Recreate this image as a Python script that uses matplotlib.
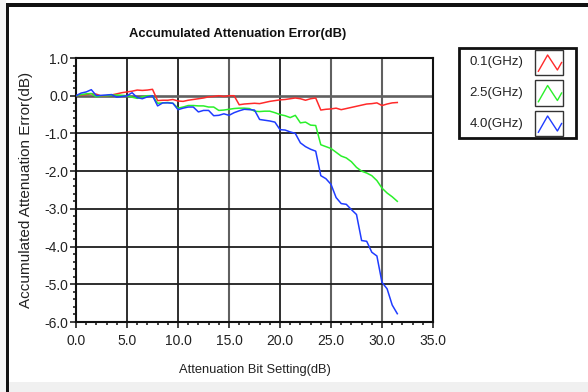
import matplotlib
matplotlib.use('Agg')
from matplotlib import pyplot as plt
from matplotlib.patches import Rectangle
from matplotlib.lines import Line2D
from matplotlib.ticker import MultipleLocator, FormatStrFormatter
import numpy as np

# attenuation bit setting (dB), 0.5 dB steps
atten_setting = np.arange(0, 32, 0.5)

err_01ghz = [0.0, 0.02, 0.03, 0.05, 0.04, -0.01, 0.0, 0.02, 0.05, 0.08,
             0.10, 0.12, 0.15, 0.14, 0.15, 0.17, -0.13, -0.12, -0.12, -0.10,
             -0.14, -0.15, -0.12, -0.10, -0.08, -0.06, -0.03, -0.02, 0.0, -0.02,
             0.0, 0.0, -0.24, -0.22, -0.21, -0.20, -0.21, -0.18, -0.15, -0.13,
             -0.11, -0.10, -0.08, -0.06, -0.08, -0.12, -0.08, -0.06, -0.38, -0.36,
             -0.35, -0.33, -0.37, -0.34, -0.31, -0.28, -0.25, -0.22, -0.21, -0.19,
             -0.26, -0.22, -0.19, -0.18]

err_25ghz = [0.0, 0.03, 0.05, 0.06, -0.03, 0.0, 0.0, 0.01, 0.02, 0.01,
             0.0, -0.04, -0.07, -0.03, 0.0, 0.0, -0.20, -0.19, -0.18, -0.20,
             -0.33, -0.30, -0.26, -0.26, -0.27, -0.27, -0.30, -0.30, -0.39, -0.38,
             -0.36, -0.34, -0.33, -0.33, -0.34, -0.41, -0.42, -0.41, -0.41, -0.45,
             -0.50, -0.53, -0.58, -0.52, -0.72, -0.70, -0.78, -0.79, -1.30, -1.35,
             -1.40, -1.50, -1.60, -1.65, -1.75, -1.90, -2.00, -2.05, -2.12, -2.25,
             -2.45, -2.58, -2.68, -2.80]

err_40ghz = [0.0, 0.07, 0.10, 0.16, 0.0, 0.01, 0.02, 0.03, -0.04, -0.02,
             0.0, 0.08, -0.05, -0.08, -0.03, 0.0, -0.27, -0.19, -0.19, -0.20,
             -0.37, -0.33, -0.30, -0.30, -0.43, -0.39, -0.39, -0.53, -0.52, -0.48,
             -0.52, -0.45, -0.40, -0.36, -0.37, -0.38, -0.63, -0.65, -0.67, -0.70,
             -0.90, -0.91, -0.96, -1.00, -1.25, -1.35, -1.42, -1.47, -2.12, -2.20,
             -2.35, -2.70, -2.86, -2.88, -3.02, -3.15, -3.84, -3.86, -4.15, -4.25,
             -4.95, -5.12, -5.55, -5.78]

series_labels = ['0.1(GHz)', '2.5(GHz)', '4.0(GHz)']
series_colors = ['#ff2a2a', '#2af02a', '#1f3cff']

plt.rcParams['font.family'] = ['Liberation Sans', 'DejaVu Sans']

W, H = 588, 392
fig = plt.figure(figsize=(W / 100, H / 100), dpi=100)

# screenshot frame: black border left and top, grey strip at the bottom
fig.patches.append(Rectangle((0, 0), 6 / W, 1, transform=fig.transFigure,
                             facecolor='#f4f4f4', edgecolor='none', zorder=0))
fig.patches.append(Rectangle((9 / W, 0), 1, 10 / H, transform=fig.transFigure,
                             facecolor='#f0f0f0', edgecolor='none', zorder=0))
fig.patches.append(Rectangle((6 / W, 0), 3 / W, 1 - 3 / H, transform=fig.transFigure,
                             facecolor='#111111', edgecolor='none', zorder=1))
fig.patches.append(Rectangle((6 / W, 1 - 6.5 / H), 1, 3 / H, transform=fig.transFigure,
                             facecolor='#111111', edgecolor='none', zorder=1))

ax = fig.add_axes([76 / W, 70 / H, 357 / W, 264 / H])

for values, label, color in zip([err_01ghz, err_25ghz, err_40ghz], series_labels, series_colors):
    ax.plot(atten_setting, values, color=color, linewidth=1.1, label=label, zorder=3)

ax.set_xlim(0, 35)
ax.set_ylim(-6, 1)
ax.xaxis.set_major_locator(MultipleLocator(5))
ax.xaxis.set_minor_locator(MultipleLocator(1))
ax.yaxis.set_major_locator(MultipleLocator(1))
ax.yaxis.set_minor_locator(MultipleLocator(0.2))
ax.xaxis.set_major_formatter(FormatStrFormatter('%.1f'))
ax.yaxis.set_major_formatter(FormatStrFormatter('%.1f'))

ax.tick_params(which='major', direction='out', length=4.5, width=1.2,
               labelsize=10, labelcolor='#222222', color='#222222', pad=1)
ax.tick_params(axis='x', which='major', pad=4)
ax.tick_params(which='minor', direction='out', length=2, width=1.2, color='#222222')

ax.grid(True, which='major', color='#1e1e1e', linewidth=1.3, zorder=1)
ax.set_axisbelow(True)
# a few grid lines come out lighter in the screenshot
for line, pos in zip(ax.xaxis.get_gridlines(), ax.get_xticks()):
    if pos in (15, 25, 30):
        line.set_color('#606060')
        line.set_linewidth(1.5)
for line, pos in zip(ax.yaxis.get_gridlines(), ax.get_yticks()):
    if pos == 0:
        line.set_color('#606060')
        line.set_linewidth(1.9)

for spine in ax.spines.values():
    spine.set_linewidth(1.5)
    spine.set_color('#111111')

ax.set_xlabel('Attenuation Bit Setting(dB)', fontsize=9.3, color='#222222')
ax.xaxis.set_label_coords(0.5, (322 - 364) / 264)
ax.set_ylabel('Accumulated Attenuation Error(dB)', fontsize=11, color='#222222')
ax.yaxis.set_label_coords((33 - 76) / 357, 0.5)

fig.text(238 / W, 1 - 34 / H, 'Accumulated Attenuation Error(dB)', ha='center', va='center',
         fontsize=9.4, fontweight='bold', color='#111111')

# legend box drawn like the instrument panel
fig.patches.append(Rectangle((459 / W, 1 - 138 / H), 117 / W, 90 / H, transform=fig.transFigure,
                             facecolor='white', edgecolor='#111111', linewidth=2, zorder=2))
row_centers = [62.5, 93, 123.5]
zig_x = np.array([0.12, 0.45, 0.8, 0.95])
zig_y = np.array([0.15, 0.8, 0.2, 0.5])
for label, color, yc in zip(series_labels, series_colors, row_centers):
    fig.text(523 / W, 1 - yc / H, label, ha='right', va='center', fontsize=9.5, color='#222222')
    bx, by, bw, bh = 535, yc + 12.5, 28, 25
    fig.patches.append(Rectangle((bx / W, 1 - by / H), bw / W, bh / H, transform=fig.transFigure,
                                 facecolor='white', edgecolor='#333333', linewidth=1, zorder=3))
    fig.lines.append(Line2D((bx + zig_x * bw) / W, (1 - by / H) + zig_y * bh / H,
                            transform=fig.transFigure, color=color, linewidth=1, zorder=4))

fig.savefig('out.png', dpi=100)
